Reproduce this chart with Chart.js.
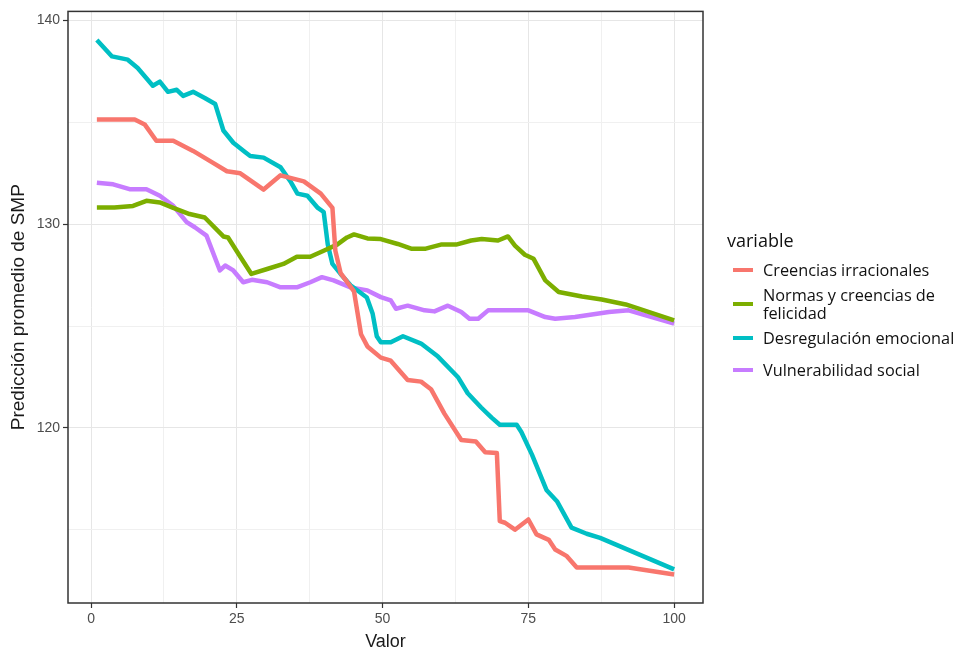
<!DOCTYPE html>
<html><head><meta charset="utf-8">
<script src="https://cdn.jsdelivr.net/npm/chart.js@4/dist/chart.umd.min.js"></script>
<style>
html,body{margin:0;padding:0;background:#fff;}
#wrap{position:relative;width:953px;height:653px;overflow:hidden;}
canvas{position:absolute;left:0;top:0;}
#legend{position:absolute;left:0;top:0;width:953px;height:653px;pointer-events:none;font-family:"Open Sans",sans-serif;color:#111;}
.lg-title{position:absolute;left:727px;font-size:18px;transform:translateY(-50%);white-space:nowrap;}
.lg-item{position:absolute;left:733px;transform:translateY(-50%);display:flex;align-items:center;}
.lg-sw{width:20px;height:4px;margin-right:10px;flex:none;}
.lg-txt{font-size:16.3px;line-height:18px;white-space:nowrap;}
</style></head><body>
<div id="wrap"><canvas id="c" width="953" height="653"></canvas><div id="legend"></div></div>
<script>
// ---- data ----
const seriesNames = ["Creencias irracionales", "Normas y creencias de\nfelicidad", "Desregulación emocional", "Vulnerabilidad social"];
const seriesColors = ["#F8766D", "#7CAE00", "#00BFC4", "#C77CFF"];

const creenciasX = [1, 7.5, 9.2, 11.2, 14.1, 17.5, 21.0, 23.3, 25.6, 29.6, 32.5, 36.5, 39.4, 41.4, 41.9, 42.8, 45.1, 46.3, 47.4, 49.7, 51.4, 54.3, 56.6, 58.3, 60.6, 63.5, 66.0, 67.6, 69.6, 70.1, 71.0, 72.7, 75.0, 76.4, 78.5, 79.6, 81.6, 83.3, 92.2, 100];
const creenciasY = [135.14, 135.14, 134.9, 134.1, 134.1, 133.6, 133.0, 132.6, 132.5, 131.7, 132.4, 132.1, 131.5, 130.8, 128.7, 127.6, 126.7, 124.6, 124.0, 123.45, 123.3, 122.35, 122.27, 121.9, 120.7, 119.4, 119.33, 118.8, 118.76, 115.42, 115.34, 115.0, 115.5, 114.77, 114.5, 114.03, 113.7, 113.14, 113.14, 112.8];

const normasX = [1, 4.0, 7.2, 9.5, 11.8, 14.1, 16.9, 19.5, 22.7, 23.5, 25.6, 27.5, 30.2, 33.0, 35.3, 37.6, 39.9, 42.2, 43.9, 45.1, 47.4, 49.7, 52.6, 54.9, 57.4, 60.0, 62.6, 65.2, 67.0, 69.8, 71.5, 72.7, 74.4, 75.9, 77.9, 80.2, 84.2, 87.6, 91.7, 100];
const normasY = [130.82, 130.82, 130.9, 131.15, 131.07, 130.8, 130.5, 130.33, 129.4, 129.35, 128.4, 127.56, 127.8, 128.05, 128.4, 128.4, 128.7, 129.0, 129.35, 129.5, 129.3, 129.27, 129.03, 128.8, 128.8, 129.0, 129.0, 129.2, 129.27, 129.2, 129.4, 128.95, 128.5, 128.3, 127.24, 126.67, 126.45, 126.3, 126.06, 125.28];

const desregX = [1, 3.6, 6.3, 8.0, 10.6, 11.8, 13.2, 14.7, 15.8, 17.5, 19.5, 21.3, 22.7, 24.4, 26.4, 27.3, 29.6, 32.5, 34.2, 35.4, 37.1, 38.9, 39.9, 40.6, 41.4, 42.8, 44.5, 47.3, 48.3, 49.0, 49.7, 51.4, 53.5, 56.6, 59.5, 62.9, 64.6, 66.9, 68.7, 70.1, 73, 73.8, 75.6, 78.1, 79.9, 82.4, 85, 87.3, 100];
const desregY = [139.05, 138.24, 138.08, 137.67, 136.8, 137.0, 136.5, 136.6, 136.3, 136.5, 136.2, 135.9, 134.6, 134.0, 133.55, 133.35, 133.27, 132.8, 132.1, 131.5, 131.4, 130.8, 130.6, 129.0, 128.05, 127.56, 127.0, 126.4, 125.6, 124.5, 124.2, 124.2, 124.5, 124.14, 123.5, 122.5, 121.7, 121.0, 120.5, 120.15, 120.15, 119.8, 118.7, 116.95, 116.4, 115.1, 114.8, 114.6, 113.05];

const vulnerX = [1, 3.8, 6.6, 9.5, 11.8, 14.1, 16.4, 17.8, 19.8, 22.1, 23.0, 24.4, 26.1, 27.6, 30.2, 32.5, 35.3, 37.6, 39.6, 41.6, 44.5, 47.4, 49.7, 51.4, 52.3, 54.3, 57.2, 58.9, 61.2, 63.5, 64.9, 66.4, 68.1, 75.0, 77.9, 79.6, 83.0, 88.8, 92.2, 100];
const vulnerY = [132.04, 131.96, 131.72, 131.72, 131.4, 130.9, 130.1, 129.85, 129.44, 127.73, 127.97, 127.73, 127.15, 127.27, 127.15, 126.9, 126.9, 127.15, 127.4, 127.24, 126.9, 126.75, 126.42, 126.26, 125.85, 126.0, 125.77, 125.72, 126.0, 125.69, 125.36, 125.36, 125.77, 125.77, 125.44, 125.36, 125.44, 125.69, 125.77, 125.12];

const xTickValues = [0, 12.5, 25, 37.5, 50, 62.5, 75, 87.5, 100];
const yTickValues = [115, 120, 125, 130, 135, 140];
const xMajor = [0, 25, 50, 75, 100];
const yMajor = [120, 130, 140];

const xTitle = "Valor";
const yTitle = "Predicción promedio de SMP";
const legendTitle = "variable";

// ---- build chart ----
const seriesXs = [creenciasX, normasX, desregX, vulnerX];
const seriesYs = [creenciasY, normasY, desregY, vulnerY];
const datasets = seriesNames.map((n, i) => ({
  label: n.replace("\n", " "),
  data: seriesXs[i].map((x, k) => ({x: x, y: seriesYs[i][k]})),
  borderColor: seriesColors[i],
  backgroundColor: seriesColors[i],
  borderWidth: 4.5,
  pointRadius: 0,
  tension: 0,
  fill: false,
  borderJoinStyle: 'round',
  borderCapStyle: 'butt'
}));

const panelBorder = {
  id: 'panelBorder',
  afterDatasetsDraw(chart) {
    const a = chart.chartArea, c = chart.ctx;
    c.save();
    c.strokeStyle = '#333333';
    c.lineWidth = 1.5;
    c.strokeRect(a.left, a.top, a.right - a.left, a.bottom - a.top);
    c.restore();
  }
};

const gridColor = (major) => (ctx) => (ctx.tick && major.includes(ctx.tick.value)) ? '#e6e6e6' : '#f0f0f0';
const tickColor = (major) => (ctx) => (ctx.tick && major.includes(ctx.tick.value)) ? '#333333' : 'rgba(0,0,0,0)';

new Chart(document.getElementById('c'), {
  type: 'line',
  data: { datasets },
  plugins: [panelBorder],
  options: {
    responsive: false,
    animation: false,
    events: [],
    layout: { padding: { left: 0, right: 250, top: 10, bottom: 0 } },
    plugins: { legend: { display: false }, tooltip: { enabled: false } },
    scales: {
      x: {
        type: 'linear', min: -3.95, max: 104.95,
        afterBuildTicks: s => { s.ticks = xTickValues.map(v => ({value: v})); },
        afterFit: s => { s.height = 50; },
        border: { display: false },
        grid: { color: gridColor(xMajor), lineWidth: 1, drawTicks: true, tickLength: 5, tickColor: tickColor(xMajor), tickWidth: 1.2 },
        ticks: { autoSkip: false, maxRotation: 0, padding: 3, color: '#4d4d4d', font: { family: 'Liberation Sans', size: 14 },
          callback: v => xMajor.includes(v) ? String(v) : '' },
        title: { display: true, text: xTitle, color: '#1a1a1a', font: { family: 'Liberation Sans', size: 18 }, padding: { top: 0, bottom: 0 } }
      },
      y: {
        type: 'linear', min: 111.4, max: 140.45,
        afterBuildTicks: s => { s.ticks = yTickValues.map(v => ({value: v})); },
        afterFit: s => { s.width = 68; },
        border: { display: false },
        grid: { color: gridColor(yMajor), lineWidth: 1, drawTicks: true, tickLength: 5, tickColor: tickColor(yMajor), tickWidth: 1.2 },
        ticks: { autoSkip: false, padding: 3, color: '#4d4d4d', font: { family: 'Liberation Sans', size: 14 },
          callback: v => yMajor.includes(v) ? String(v) : '' },
        title: { display: true, text: yTitle, color: '#1a1a1a', font: { family: 'Liberation Sans', size: 19 }, padding: { top: 7, bottom: 0 } }
      }
    }
  }
});

// ---- legend (HTML, ggplot style) ----
const lg = document.getElementById('legend');
const legendCenters = [270, 304, 338, 370];
const t = document.createElement('div');
t.className = 'lg-title'; t.style.top = '240px'; t.textContent = legendTitle;
lg.appendChild(t);
seriesNames.forEach((n, i) => {
  const it = document.createElement('div');
  it.className = 'lg-item'; it.style.top = legendCenters[i] + 'px';
  const sw = document.createElement('div'); sw.className = 'lg-sw'; sw.style.background = seriesColors[i];
  const tx = document.createElement('div'); tx.className = 'lg-txt';
  n.split('\n').forEach((line, j) => { if (j) tx.appendChild(document.createElement('br')); tx.appendChild(document.createTextNode(line)); });
  it.appendChild(sw); it.appendChild(tx); lg.appendChild(it);
});
</script>
</body></html>
